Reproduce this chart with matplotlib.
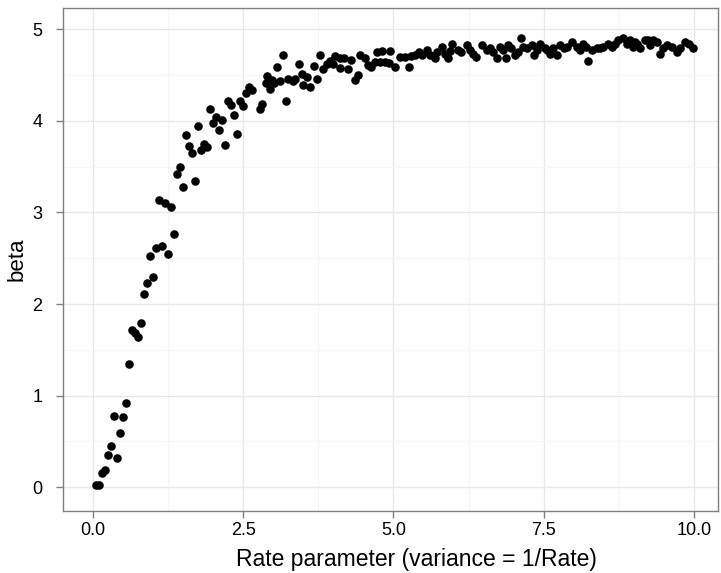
import matplotlib
matplotlib.use("Agg")
import matplotlib.pyplot as plt
import numpy as np

plt.rcParams['font.family'] = ['Liberation Sans', 'DejaVu Sans']

# values
rate = [0.05, 0.10, 0.15, 0.20, 0.25, 0.30, 0.35, 0.40, 0.45, 0.50,
        0.55, 0.60, 0.65, 0.70, 0.75, 0.80, 0.85, 0.90, 0.95, 1.00,
        1.05, 1.10, 1.15, 1.20, 1.25, 1.30, 1.35, 1.40, 1.45, 1.50,
        1.55, 1.60, 1.65, 1.70, 1.75, 1.80, 1.85, 1.90, 1.95, 2.00,
        2.05, 2.10, 2.15, 2.20, 2.25, 2.30, 2.35, 2.40, 2.45, 2.50,
        2.55, 2.60, 2.65, 2.77, 2.81, 2.87, 2.90, 2.95, 2.97, 3.01,
        3.06, 3.11, 3.16, 3.21, 3.25, 3.32, 3.36, 3.42, 3.47, 3.50,
        3.56, 3.61, 3.67, 3.72, 3.77, 3.82, 3.89, 3.95, 3.99, 4.03,
        4.11, 4.11, 4.18, 4.25, 4.30, 4.36, 4.41, 4.45, 4.53, 4.58,
        4.63, 4.69, 4.72, 4.78, 4.81, 4.86, 4.93, 4.94, 5.02, 5.11,
        5.19, 5.25, 5.29, 5.36, 5.42, 5.48, 5.55, 5.61, 5.69, 5.72,
        5.80, 5.86, 5.91, 5.94, 5.98, 6.08, 6.13, 6.22, 6.27, 6.33,
        6.37, 6.47, 6.55, 6.61, 6.66, 6.72, 6.77, 6.83, 6.88, 6.91,
        6.96, 7.03, 7.08, 7.13, 7.16, 7.22, 7.30, 7.33, 7.38, 7.44,
        7.52, 7.55, 7.60, 7.66, 7.72, 7.77, 7.83, 7.88, 7.97, 8.05,
        8.10, 8.16, 8.21, 8.23, 8.30, 8.38, 8.44, 8.49, 8.57, 8.63,
        8.69, 8.74, 8.82, 8.88, 8.94, 8.99, 9.02, 9.05, 9.10, 9.18,
        9.24, 9.27, 9.32, 9.38, 9.43, 9.49, 9.55, 9.63, 9.71, 9.77,
        9.85, 9.91, 9.99]
beta = [0.03, 0.03, 0.16, 0.19, 0.35, 0.45, 0.78, 0.32, 0.59, 0.77,
        0.92, 1.35, 1.72, 1.68, 1.64, 1.79, 2.11, 2.23, 2.52, 2.30,
        2.61, 3.13, 2.63, 3.10, 2.55, 3.06, 2.76, 3.42, 3.50, 3.28,
        3.84, 3.72, 3.65, 3.34, 3.94, 3.68, 3.75, 3.71, 4.13, 3.97,
        4.04, 3.90, 4.01, 3.73, 4.22, 4.17, 4.06, 3.86, 4.21, 4.16,
        4.30, 4.37, 4.33, 4.13, 4.18, 4.41, 4.49, 4.35, 4.44, 4.41,
        4.59, 4.43, 4.72, 4.21, 4.45, 4.43, 4.45, 4.62, 4.51, 4.39,
        4.48, 4.37, 4.60, 4.45, 4.72, 4.56, 4.62, 4.65, 4.62, 4.71,
        4.68, 4.58, 4.68, 4.56, 4.66, 4.44, 4.50, 4.72, 4.68, 4.61,
        4.59, 4.64, 4.75, 4.64, 4.76, 4.64, 4.63, 4.76, 4.59, 4.70,
        4.70, 4.59, 4.71, 4.72, 4.75, 4.72, 4.77, 4.72, 4.68, 4.75,
        4.81, 4.73, 4.68, 4.76, 4.84, 4.77, 4.75, 4.83, 4.77, 4.73,
        4.70, 4.83, 4.77, 4.79, 4.75, 4.68, 4.81, 4.77, 4.68, 4.83,
        4.79, 4.72, 4.75, 4.90, 4.81, 4.79, 4.83, 4.72, 4.77, 4.84,
        4.79, 4.77, 4.73, 4.79, 4.72, 4.83, 4.79, 4.81, 4.86, 4.81,
        4.77, 4.84, 4.81, 4.65, 4.77, 4.79, 4.79, 4.81, 4.84, 4.81,
        4.84, 4.88, 4.90, 4.84, 4.88, 4.81, 4.86, 4.84, 4.79, 4.88,
        4.88, 4.83, 4.88, 4.86, 4.73, 4.79, 4.83, 4.81, 4.75, 4.79,
        4.86, 4.84, 4.79]

xticks = [0.0, 2.5, 5.0, 7.5, 10.0]
xtick_labels = ["0.0", "2.5", "5.0", "7.5", "10.0"]
yticks = [0, 1, 2, 3, 4, 5]

fig = plt.figure(figsize=(7.21, 5.73), dpi=100)
ax = fig.add_axes([0.0874, 0.108, 0.9084, 0.878])

ax.scatter(rate, beta, s=38, c="black", linewidths=0, zorder=3)

ax.set_xlim(-0.5, 10.4)
ax.set_ylim(-0.26, 5.23)
ax.set_xticks(xticks)
ax.set_xticklabels(xtick_labels)
ax.set_yticks(yticks)
ax.set_xticks([1.25, 3.75, 6.25, 8.75], minor=True)
ax.set_yticks([0.5, 1.5, 2.5, 3.5, 4.5], minor=True)

ax.grid(True, which="major", color="#e8e8e8", linewidth=1.0, zorder=0)
ax.grid(True, which="minor", color="#f6f6f6", linewidth=0.8, zorder=0)
ax.set_axisbelow(True)

for s in ax.spines.values():
    s.set_color("#7f7f7f")
    s.set_linewidth(1.0)

ax.tick_params(which="major", direction="out", length=5, width=1,
               color="#7f7f7f", labelsize=13, labelcolor="black")
ax.tick_params(axis="y", which="major", pad=10)
ax.tick_params(axis="x", which="major", pad=3)
ax.tick_params(which="minor", length=0)

ax.set_xlabel("Rate parameter (variance = 1/Rate)", fontsize=16.5)
ax.set_ylabel("beta", fontsize=16, va="center")
ax.xaxis.set_label_coords(0.54, -0.073)
ax.yaxis.set_label_coords(-0.07, 0.5)

fig.savefig("out.png", dpi=100)
